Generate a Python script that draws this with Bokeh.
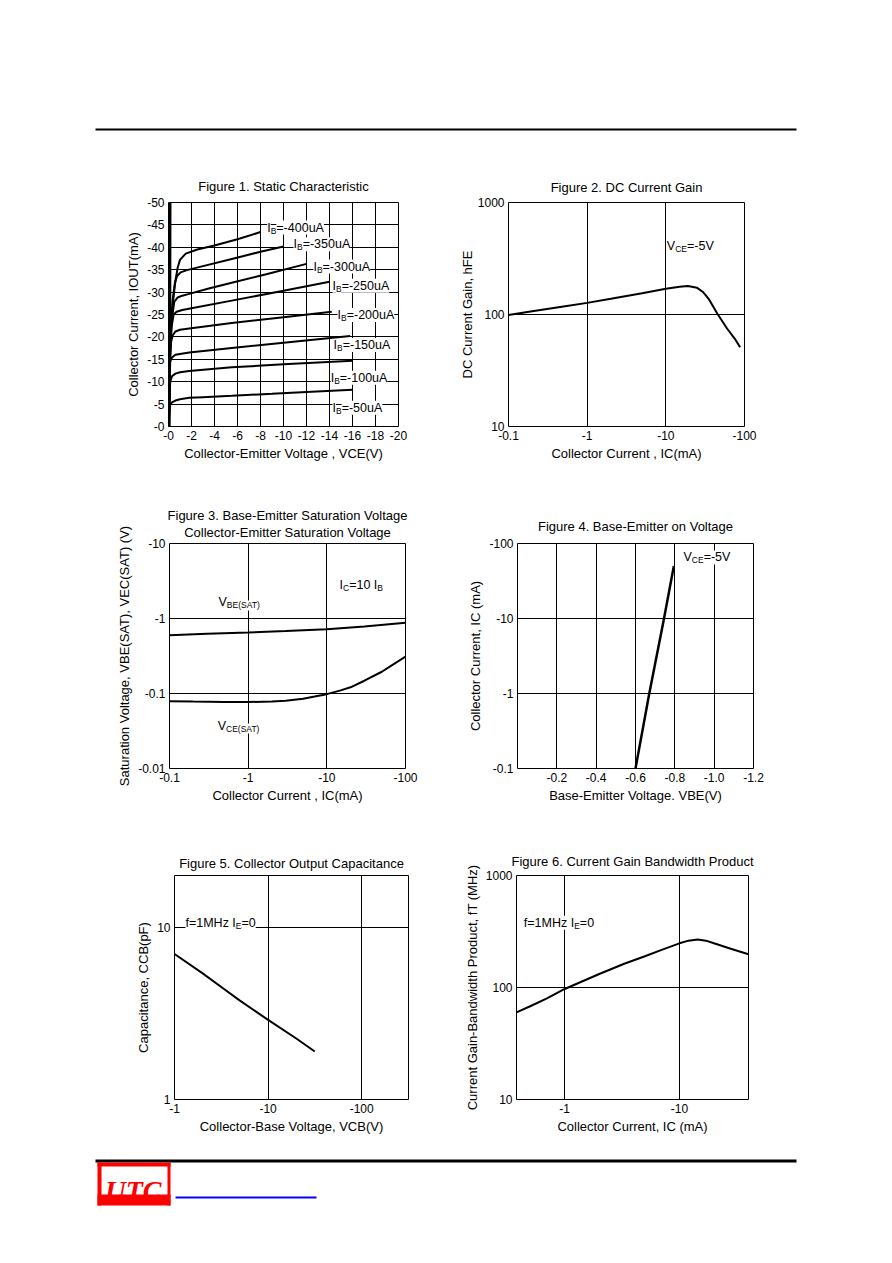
from bokeh.plotting import figure
from bokeh.layouts import column, row
from bokeh.models import Range1d, FixedTicker, Title, ColumnDataSource, Spacer
from bokeh.core.properties import value, field
from bokeh.embed import file_html
from bokeh.resources import INLINE

FONT = "Liberation Sans"
TICK_FS = "12px"
LABEL_FS = "13px"
TITLE_FS = "13px"
MAIN = 12.5
SUB = 8.5

# ---------------- Figure 1: Static characteristic ----------------
f1_x_ticks = [0, 2, 4, 6, 8, 10, 12, 14, 16, 18, 20]
f1_x_labels = ["-0", "-2", "-4", "-6", "-8", "-10", "-12", "-14", "-16", "-18", "-20"]
f1_y_ticks = [0, 5, 10, 15, 20, 25, 30, 35, 40, 45, 50]
f1_y_labels = ["-0", "-5", "-10", "-15", "-20", "-25", "-30", "-35", "-40", "-45", "-50"]

ib_names = ["-50uA", "-100uA", "-150uA", "-200uA", "-250uA", "-300uA", "-350uA", "-400uA"]
ib50_v = [0, 0.08, 0.15, 0.3, 0.6, 1.0, 1.8, 3.0, 5.5, 9.0, 12.0, 16.0]
ib50_i = [0, 3.0, 4.8, 5.4, 5.8, 6.1, 6.4, 6.55, 6.85, 7.3, 7.7, 8.2]
ib100_v = [0, 0.08, 0.15, 0.3, 0.6, 1.0, 1.8, 5.5, 10.0, 16.0]
ib100_i = [0, 6.0, 10.0, 11.2, 11.8, 12.1, 12.4, 13.2, 13.9, 14.7]
ib150_v = [0, 0.08, 0.15, 0.3, 0.6, 1.0, 1.8, 5.5, 10.0, 15.8]
ib150_i = [0, 9.0, 14.5, 15.4, 16.0, 16.2, 16.5, 17.5, 18.7, 20.2]
ib200_v = [0, 0.1, 0.2, 0.35, 0.6, 1.0, 1.8, 5.5, 10.0, 14.2]
ib200_i = [0, 12.0, 18.5, 20.3, 21.2, 21.6, 21.9, 23.1, 24.4, 25.6]
ib250_v = [0, 0.12, 0.25, 0.45, 0.7, 1.2, 2.0, 5.5, 10.0, 14.0]
ib250_i = [0, 15.0, 22.0, 25.0, 25.6, 26.0, 26.4, 28.1, 30.3, 32.3]
ib300_v = [0, 0.15, 0.3, 0.5, 0.8, 1.2, 1.8, 3.5, 5.5, 8.5, 12.0]
ib300_i = [0, 17.0, 24.0, 27.8, 28.8, 29.2, 29.6, 30.8, 32.1, 34.0, 36.3]
ib350_v = [0, 0.15, 0.35, 0.55, 0.75, 1.05, 1.6, 3.0, 5.5, 8.0, 10.0]
ib350_i = [0, 19.0, 28.0, 32.0, 33.6, 34.4, 34.9, 35.8, 37.4, 39.0, 40.2]
ib400_v = [0, 0.15, 0.4, 0.6, 0.8, 1.0, 1.5, 2.5, 4.0, 6.0, 8.0]
ib400_i = [0, 20.0, 28.0, 32.5, 35.5, 37.2, 38.6, 39.5, 40.4, 41.8, 43.4]
sat_v = [0.08, 0.13, 0.15]
sat_i = [0, 25, 50]
f1_lab_v = [14.26, 14.1, 14.35, 14.7, 14.26, 12.6, 10.87, 8.58]
f1_lab_i = [4.2, 10.9, 18.2, 24.9, 31.4, 35.7, 40.7, 44.4]

# ---------------- Figure 2: DC current gain ----------------
log_x_ticks = [0.1, 1, 10, 100]
log_x_labels = ["-0.1", "-1", "-10", "-100"]
gain_y_ticks = [10, 100, 1000]
gain_y_labels = ["10", "100", "1000"]
hfe_ic = [0.1, 0.2, 0.5, 1, 2, 5, 10, 15, 19, 25, 30, 35, 45, 60, 75, 88]
hfe_val = [99, 107, 118, 127, 138, 155, 170, 177, 180, 173, 158, 138, 102, 75, 61, 51]

# ---------------- Figure 3: saturation voltages ----------------
sat_y_ticks = [0.01, 0.1, 1, 10]
sat_y_labels = ["-0.01", "-0.1", "-1", "-10"]
vbe_ic = [0.1, 0.3, 1, 3, 10, 30, 100]
vbe_sat = [0.60, 0.625, 0.65, 0.68, 0.72, 0.78, 0.875]
vce_ic = [0.1, 0.2, 0.5, 1, 2, 3, 5, 7, 10, 15, 20, 30, 50, 70, 100]
vce_sat = [0.079, 0.078, 0.077, 0.077, 0.078, 0.080, 0.085, 0.091, 0.098, 0.110, 0.121, 0.148, 0.195, 0.245, 0.31]

# ---------------- Figure 4: base-emitter on voltage ----------------
vbe_x_ticks = [0.2, 0.4, 0.6, 0.8, 1, 1.2]
vbe_x_labels = ["-0.2", "-0.4", "-0.6", "-0.8", "-1.0", "-1.2"]
on_y_ticks = [0.1, 1, 10, 100]
on_y_labels = ["-0.1", "-1", "-10", "-100"]
von_vbe = [0.60, 0.67, 0.745, 0.795]
von_ic = [0.1, 1, 10, 50]

# ---------------- Figure 5: output capacitance ----------------
vcb_ticks = [1, 10, 100]
vcb_labels = ["-1", "-10", "-100"]
cap_ticks = [1, 10]
cap_labels = ["1", "10"]
cob_v = [1, 2, 3.16, 5, 10, 20, 31.5]
cob_pf = [7.0, 5.4, 4.5, 3.75, 2.9, 2.26, 1.9]

# ---------------- Figure 6: gain bandwidth product ----------------
ft_x_ticks = [1, 10]
ft_x_labels = ["-1", "-10"]
ft_y_ticks = [10, 100, 1000]
ft_y_labels = ["10", "100", "1000"]
ft_ic = [0.38, 0.5, 0.7, 1, 2, 3.3, 5, 7, 10, 12, 14.4, 17, 20, 28, 40]
ft_mhz = [60, 68, 80, 97, 132, 163, 190, 217, 248, 262, 268, 262, 248, 222, 198]

# Arial / Liberation Sans advance widths (per 1000 em)
AW = {' ': 278, '-': 333, '=': 584, '.': 278, ',': 278, '(': 333, ')': 333,
      'A': 667, 'B': 667, 'C': 722, 'E': 667, 'F': 611, 'H': 722, 'I': 278, 'M': 833,
      'O': 778, 'S': 667, 'T': 611, 'U': 722, 'V': 667, 'a': 556, 'f': 278, 'h': 556,
      'u': 556, 'z': 500}


def tw(s, size):
    return sum(AW.get(c, 556) for c in s) * size / 1000.0


def sub_label(p, x, y, parts, bg=True):
    xs, ys, txt, xo, yo, fs = [], [], [], [], [], []
    off = 0.0
    for t, is_sub in parts:
        size = SUB if is_sub else MAIN
        xs.append(x); ys.append(y); txt.append(t)
        xo.append(off); yo.append(3 if is_sub else 0); fs.append("%gpx" % size)
        off += tw(t, size)
    src = ColumnDataSource(dict(x=xs, y=ys, text=txt, xo=xo, yo=yo, fs=fs))
    kw = {}
    if bg:
        kw = dict(background_fill_color="white")
    p.text(x="x", y="y", text="text", x_offset="xo", y_offset="yo", text_font_size=field("fs"),
           text_font=value(FONT), text_color="black", text_baseline="alphabetic",
           text_align="left", source=src, **kw)


def chart(width, height, left, right, top, bottom, xr, yr, xtype="linear", ytype="linear",
          titles=(), title_standoff=(10,), xlabel="", ylabel="", ylabel_standoff=3):
    p = figure(width=width, height=height, x_range=Range1d(*xr), y_range=Range1d(*yr),
               x_axis_type=xtype, y_axis_type=ytype, min_border_left=left,
               min_border_right=right, min_border_top=top, min_border_bottom=bottom,
               toolbar_location=None, output_backend="svg")
    p.outline_line_color = "black"
    p.outline_line_alpha = 1
    p.outline_line_width = 1
    p.background_fill_color = "white"
    p.border_fill_color = "white"
    for ax in p.axis:
        ax.axis_line_color = None
        ax.major_tick_line_color = None
        ax.minor_tick_line_color = None
        ax.major_tick_in = 0
        ax.major_tick_out = 0
        ax.minor_tick_in = 0
        ax.minor_tick_out = 0
        ax.major_label_text_font = FONT
        ax.major_label_text_font_size = TICK_FS
        ax.major_label_text_color = "black"
        ax.axis_label_text_font = FONT
        ax.axis_label_text_font_size = LABEL_FS
        ax.axis_label_text_font_style = "normal"
        ax.axis_label_text_color = "black"
        ax.major_label_standoff = 4
        ax.axis_label_standoff = 3
    p.yaxis.axis_label_standoff = ylabel_standoff
    p.xaxis.axis_label = xlabel
    p.yaxis.axis_label = ylabel
    p.grid.grid_line_color = "black"
    p.grid.grid_line_alpha = 1
    p.grid.grid_line_width = 1
    p.grid.minor_grid_line_color = None
    for t, s in zip(titles, title_standoff):
        p.add_layout(Title(text=t, align="center", text_font=FONT, text_font_size=TITLE_FS,
                           text_font_style="normal", text_color="black", standoff=s), "above")
    return p


def set_ticks(axis, ticks, labels):
    axis.ticker = FixedTicker(ticks=ticks, minor_ticks=[])
    axis.major_label_overrides = {t: l for t, l in zip(ticks, labels)}


# ---------- Fig 1 ----------
p1 = chart(442, 320, 160, 52, 52, 44, (0, 20), (0, 50),
           titles=["Figure 1. Static Characteristic"], title_standoff=[18],
           xlabel="Collector-Emitter Voltage , VCE(V)", ylabel="Collector Current, IOUT(mA)")
set_ticks(p1.xaxis[0], f1_x_ticks, f1_x_labels)
set_ticks(p1.yaxis[0], f1_y_ticks, f1_y_labels)
p1.xgrid.ticker = FixedTicker(ticks=f1_x_ticks[1:-1])
p1.ygrid.ticker = FixedTicker(ticks=f1_y_ticks[1:-1])
for name, lv, li in zip(ib_names, f1_lab_v, f1_lab_i):
    sub_label(p1, lv, li, [("I", 0), ("B", 1), ("=" + name, 0)])
curves1 = [(ib50_v, ib50_i), (ib100_v, ib100_i), (ib150_v, ib150_i), (ib200_v, ib200_i),
           (ib250_v, ib250_i), (ib300_v, ib300_i), (ib350_v, ib350_i), (ib400_v, ib400_i)]
for vv, ii in curves1:
    p1.line(vv, ii, line_color="black", line_width=2)
p1.line(sat_v, sat_i, line_color="black", line_width=2.5)

# ---------- Fig 2 ----------
p2 = chart(434, 320, 58, 140, 52, 43, (0.1, 100), (10, 1000), "log", "log",
           titles=["Figure 2. DC Current Gain"], title_standoff=[15],
           xlabel="Collector Current , IC(mA)", ylabel="DC Current Gain, hFE", ylabel_standoff=0)
set_ticks(p2.xaxis[0], log_x_ticks, log_x_labels)
set_ticks(p2.yaxis[0], gain_y_ticks, gain_y_labels)
p2.xgrid.ticker = FixedTicker(ticks=[1, 10])
p2.ygrid.ticker = FixedTicker(ticks=[100])
sub_label(p2, 10.3, 412, [("V", 0), ("CE", 1), ("=-5V", 0)])
p2.line(hfe_ic, hfe_val, line_color="black", line_width=2)

# ---------- Fig 3 ----------
p3 = chart(442, 340, 161, 45, 73, 42, (0.1, 100), (0.01, 10), "log", "log",
           titles=["Collector-Emitter Saturation Voltage", "Figure 3. Base-Emitter Saturation Voltage"],
           title_standoff=[7, -7],
           xlabel="Collector Current , IC(mA)", ylabel="Saturation Voltage, VBE(SAT), VEC(SAT) (V)")
set_ticks(p3.xaxis[0], log_x_ticks, log_x_labels)
set_ticks(p3.yaxis[0], sat_y_ticks, sat_y_labels)
p3.xgrid.ticker = FixedTicker(ticks=[1, 10])
p3.ygrid.ticker = FixedTicker(ticks=[0.1, 1])
sub_label(p3, 0.42, 1.64, [("V", 0), ("BE(SAT)", 1)])
sub_label(p3, 0.41, 0.0373, [("V", 0), ("CE(SAT)", 1)])
sub_label(p3, 14.5, 2.76, [("I", 0), ("C", 1), ("=10 I", 0), ("B", 1)])
p3.line(vbe_ic, vbe_sat, line_color="black", line_width=2)
p3.line(vce_ic, vce_sat, line_color="black", line_width=2)

# ---------- Fig 4 ----------
p4 = chart(434, 340, 67, 131, 73, 41, (0, 1.2), (0.1, 100), "linear", "log",
           titles=["Figure 4. Base-Emitter on Voltage"], title_standoff=[20],
           xlabel="Base-Emitter Voltage. VBE(V)", ylabel="Collector Current, IC (mA)")
set_ticks(p4.xaxis[0], vbe_x_ticks, vbe_x_labels)
set_ticks(p4.yaxis[0], on_y_ticks, on_y_labels)
p4.xgrid.ticker = FixedTicker(ticks=vbe_x_ticks[:-1])
p4.ygrid.ticker = FixedTicker(ticks=[1, 10])
sub_label(p4, 0.844, 65.3, [("V", 0), ("CE", 1), ("=-5V", 0)])
p4.line(von_vbe, von_ic, line_color="black", line_width=2.5)

# ---------- Fig 5 ----------
p5 = chart(442, 330, 166, 42, 65, 41, (1, 316), (1, 20), "log", "log",
           titles=["Figure 5. Collector Output Capacitance"], title_standoff=[9],
           xlabel="Collector-Base Voltage, VCB(V)", ylabel="Capacitance, CCB(pF)")
set_ticks(p5.xaxis[0], vcb_ticks, vcb_labels)
set_ticks(p5.yaxis[0], cap_ticks, cap_labels)
p5.xgrid.ticker = FixedTicker(ticks=[10, 100])
p5.ygrid.ticker = FixedTicker(ticks=[10])
sub_label(p5, 1.31, 10.55, [("f=1MHz I", 0), ("E", 1), ("=0", 0)])
p5.line(cob_v, cob_pf, line_color="black", line_width=2)

# ---------- Fig 6 ----------
p6 = chart(434, 330, 66, 136, 65, 41, (0.38, 40), (10, 1000), "log", "log",
           titles=["Figure 6. Current Gain Bandwidth Product"], title_standoff=[13],
           xlabel="Collector Current, IC (mA)", ylabel="Current Gain-Bandwidth Product, fT (MHz)")
set_ticks(p6.xaxis[0], ft_x_ticks, ft_x_labels)
set_ticks(p6.yaxis[0], ft_y_ticks, ft_y_labels)
p6.xgrid.ticker = FixedTicker(ticks=[1, 10])
p6.ygrid.ticker = FixedTicker(ticks=[100])
sub_label(p6, 0.44, 378, [("f=1MHz I", 0), ("E", 1), ("=0", 0)])
p6.line(ft_ic, ft_mhz, line_color="black", line_width=2)


# ---------- page header / footer decoration ----------
def deco(w, h):
    p = figure(width=w, height=h, x_range=Range1d(0, w), y_range=Range1d(h, 0),
               x_axis_type=None, y_axis_type=None, min_border=0,
               toolbar_location=None, output_backend="svg")
    p.outline_line_color = None
    p.background_fill_color = "white"
    p.border_fill_color = "white"
    return p


HEAD_H = 142
head = deco(876, HEAD_H)
head.quad(left=[87], right=[788], top=[120], bottom=[122], color="black", line_color=None)

FOOT_H = 75
foot = deco(876, FOOT_H)
foot.quad(left=[87], right=[788], top=[19], bottom=[22], color="black", line_color=None)
# logo frame: left, right and top bars, solid bottom band
foot.quad(left=[89, 159, 89, 89], right=[93, 162, 162, 162], top=[22, 22, 22, 54],
          bottom=[65, 65, 26, 65], color="#ff0000", line_color=None)
foot.text(x=[125], y=[50], text=["UTC"], text_font=value("Liberation Serif"),
          text_font_style="bold italic", text_font_size="28px", text_color="#ff0000",
          text_align="center", text_baseline="alphabetic")
foot.quad(left=[167], right=[308], top=[56], bottom=[58], color="#0000ff", line_color=None)

page = column(head, row(p1, p2), row(p3, p4), row(p5, p6), foot)
layout = row(Spacer(width=8, height=8), column(Spacer(width=8, height=8), page))
open("out.html", "w").write(file_html(layout, INLINE))
